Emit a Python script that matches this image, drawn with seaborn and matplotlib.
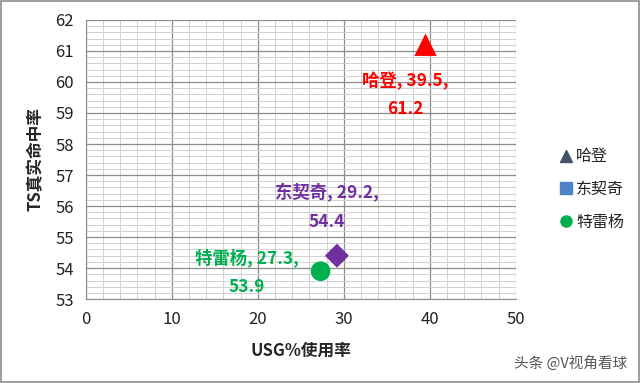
import matplotlib
matplotlib.use("Agg")
import matplotlib.pyplot as plt
from matplotlib.lines import Line2D
from matplotlib.ticker import MultipleLocator
import seaborn as sns
import pandas as pd

# 数据
players = ["哈登", "东契奇", "特雷杨"]
usg = [39.5, 29.2, 27.3]
ts = [61.2, 54.4, 53.9]
point_colors = ["#FF0000", "#7030A0", "#00B050"]
point_markers = ["^", "D", "o"]
legend_colors = ["#44546A", "#4F81C7", "#00B050"]
legend_markers = ["^", "s", "o"]

sns.set_style("white")
plt.rcParams["font.family"] = ["Noto Sans CJK SC", "DejaVu Sans"]

df = pd.DataFrame({"player": players, "usg": usg, "ts": ts})

fig = plt.figure(figsize=(6.4, 3.83), dpi=100)
ax = fig.add_axes([0.134, 0.219, 0.672, 0.729])

for i, row in df.iterrows():
    sns.scatterplot(x=[row["usg"]], y=[row["ts"]], ax=ax, color=point_colors[i],
                    marker=point_markers[i], s=[260, 150, 200][i], edgecolor="none",
                    legend=False, zorder=5)

ax.set_xlim(0, 50)
ax.set_ylim(53, 62)
ax.xaxis.set_major_locator(MultipleLocator(10))
ax.xaxis.set_minor_locator(MultipleLocator(2))
ax.yaxis.set_major_locator(MultipleLocator(1))
ax.yaxis.set_minor_locator(MultipleLocator(0.2))
ax.grid(which="major", color="#8C8C8C", linewidth=0.9)
ax.grid(which="minor", color="#D0D0D0", linewidth=0.7)
ax.set_axisbelow(True)
for s in ["top", "right"]:
    ax.spines[s].set_visible(False)
for s in ["left", "bottom"]:
    ax.spines[s].set_color("#8C8C8C")
ax.tick_params(which="major", direction="out", length=5, color="#8C8C8C",
               labelsize=12, labelcolor="#222222")
ax.tick_params(which="minor", length=0)

ax.set_xlabel("USG%使用率", fontsize=12, fontweight="bold", labelpad=10)
ax.set_ylabel("TS真实命中率", fontsize=12, fontweight="bold", labelpad=8)

# 数据标签位置 (数据坐标)
label_pos = [(37.1, 59.58), (28.0, 55.97), (18.7, 53.87)]
for i in range(3):
    ax.text(label_pos[i][0], label_pos[i][1],
            f"{players[i]}, {usg[i]},\n{ts[i]}", color=point_colors[i],
            fontsize=12.5, fontweight="bold", ha="center", va="center",
            linespacing=1.75)

handles = [Line2D([], [], linestyle="none", marker=legend_markers[i],
                  color=legend_colors[i], markersize=8) for i in range(3)]
fig.legend(handles, players, loc="center left", bbox_to_anchor=(0.85, 0.505),
           frameon=False, fontsize=11.5, handletextpad=0.1, labelspacing=1.0,
           handlelength=1.0)

fig.text(0.98, 0.052, "头条 @V视角看球", color="#555555", fontsize=10.5,
         ha="right", va="center")

fig.patches.append(plt.Rectangle((0.002, 0.003), 0.996, 0.994, transform=fig.transFigure,
                                 fill=False, edgecolor="#8C8C8C", linewidth=1.2))

fig.savefig("out.png", dpi=100)
